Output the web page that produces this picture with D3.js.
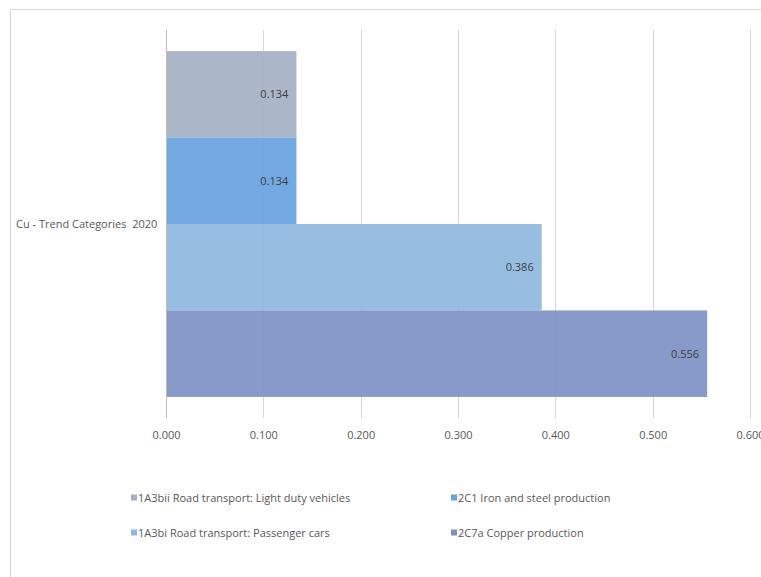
<!DOCTYPE html>
<html>
<head>
<meta charset="utf-8">
<script src="https://cdn.jsdelivr.net/npm/d3@7"></script>
<style>
  html, body { margin: 0; padding: 0; background: #fff; }
  svg { display: block; font-family: "Open Sans", "Liberation Sans", sans-serif; }
  text { white-space: pre; }
</style>
</head>
<body>
<svg id="chart" width="761" height="577"></svg>
<script>
const category = "Cu - Trend Categories  2020";
const seriesNames = [
  "1A3bii Road transport: Light duty vehicles",
  "2C1 Iron and steel production",
  "1A3bi Road transport: Passenger cars",
  "2C7a Copper production"
];
const seriesValues = [0.134, 0.134, 0.386, 0.556];
const seriesColors = ["#A5B0C4", "#67A3E0", "#8FB9DE", "#7F92C6"];
const xTicks = [0, 0.1, 0.2, 0.3, 0.4, 0.5, 0.6];

const svg = d3.select("#chart");

// outer chart border (clipped at right/bottom)
svg.append("path")
  .attr("d", "M10.5,577 L10.5,9.5 L761,9.5")
  .attr("fill", "none").attr("stroke", "#D9D9D9").attr("stroke-width", 1);

const plot = { left: 166, right: 750, top: 30, bottom: 418 };

const x = d3.scaleLinear().domain([0, 0.6]).range([plot.left, plot.right]);
const yCat = d3.scaleBand().domain([category]).range([plot.top, plot.bottom]).paddingInner(0).paddingOuter(0.061);
const ySer = d3.scaleBand().domain(seriesNames).range([0, yCat.bandwidth()]).padding(0);

// gridlines
svg.append("g").selectAll("line").data(xTicks.slice(1)).join("line")
  .attr("x1", d => Math.round(x(d)) + 0.5).attr("x2", d => Math.round(x(d)) + 0.5)
  .attr("y1", plot.top).attr("y2", plot.bottom)
  .attr("stroke", "#D9D9D9").attr("stroke-width", 1);

// bars
const bars = svg.append("g").attr("transform", `translate(0,${yCat(category)})`);
bars.selectAll("rect").data(seriesNames).join("rect")
  .attr("x", x(0))
  .attr("y", d => ySer(d))
  .attr("width", (d, i) => x(seriesValues[i]) - x(0))
  .attr("height", ySer.bandwidth())
  .attr("fill", (d, i) => seriesColors[i])
  .attr("fill-opacity", 0.93);

// data labels
bars.selectAll("text").data(seriesNames).join("text")
  .attr("x", (d, i) => x(seriesValues[i]) - 8)
  .attr("y", d => ySer(d) + ySer.bandwidth() / 2)
  .attr("dy", "0.35em")
  .attr("text-anchor", "end")
  .attr("font-size", 11)
  .attr("fill", "#404040")
  .text((d, i) => d3.format(".3f")(seriesValues[i]));

// vertical axis line at 0
svg.append("line")
  .attr("x1", Math.round(x(0)) + 0.5).attr("x2", Math.round(x(0)) + 0.5)
  .attr("y1", plot.top).attr("y2", plot.bottom)
  .attr("stroke", "#BFBFBF").attr("stroke-width", 1);

// x axis tick labels
const xAxis = d3.axisBottom(x).tickValues(xTicks).tickFormat(d3.format(".3f")).tickSize(0).tickPadding(0);
const gx = svg.append("g").attr("transform", `translate(0,${plot.bottom + 17})`).call(xAxis);
gx.select(".domain").remove();
gx.selectAll("text").attr("font-size", 11).attr("fill", "#595959")
  .attr("font-family", "'Open Sans', 'Liberation Sans', sans-serif").attr("dy", "0.35em");

// category label
svg.append("text")
  .attr("x", 16).attr("y", yCat(category) + yCat.bandwidth() / 2)
  .attr("dy", "0.35em")
  .attr("font-size", 11).attr("fill", "#595959")
  .text(category);

// legend
const legendPos = [
  { x: 131, y: 498 },
  { x: 451, y: 498 },
  { x: 131, y: 533 },
  { x: 451, y: 533 }
];
const lg = svg.append("g").selectAll("g").data(seriesNames).join("g")
  .attr("transform", (d, i) => `translate(${legendPos[i].x},${legendPos[i].y})`);
lg.append("rect").attr("x", 0).attr("y", -3.5).attr("width", 6).attr("height", 6)
  .attr("fill", (d, i) => seriesColors[i]);
lg.append("text").attr("x", 7).attr("y", 0).attr("dy", "0.35em")
  .attr("font-size", 11).attr("fill", "#595959")
  .text(d => d);
</script>
</body>
</html>
